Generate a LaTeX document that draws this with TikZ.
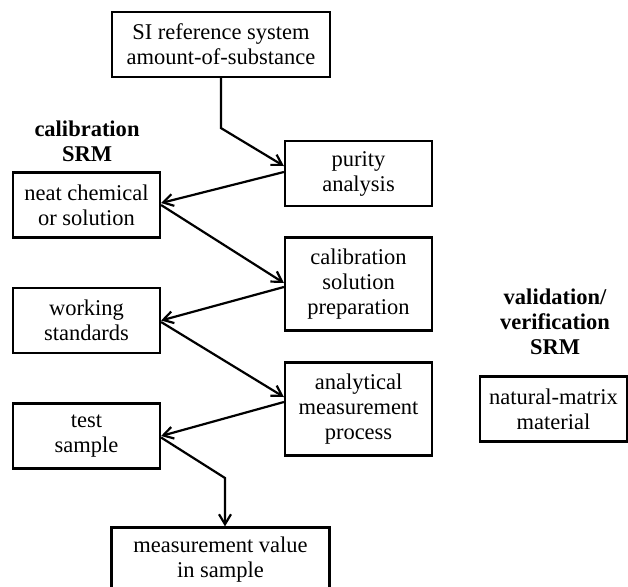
\documentclass[tikz,border=0pt]{standalone}
\usepackage{fontspec}
\setmainfont{Liberation Serif}
\usetikzlibrary{arrows.meta}

\begin{document}
\begin{tikzpicture}[x=1pt,y=-1pt,
  font=\fontsize{22.5}{25}\selectfont,
  box/.style={rectangle,draw,line width=2.2pt,align=center,inner sep=0pt,
    minimum width=147pt,minimum height=65pt},
  tallbox/.style={box,minimum height=93pt},
  widebox/.style={box,minimum width=218pt},
  srm/.style={align=center,font=\fontsize{22.5}{25}\selectfont\bfseries},
  flow/.style={line width=2.2pt,-{Straight Barb[length=10pt,width=12pt,line width=2.2pt]}}]
\useasboundingbox (0,0) rectangle (628,586);
% chain of nodes
\node [widebox] (si) at (221,44.5) {SI reference system\\amount-of-substance};
\node [box] (purity) at (358.5,173.5) {purity\\analysis};
\node [box] (neat) at (86.5,205) {neat chemical\\or solution};
\node [tallbox] (calsol) at (358.5,284) {calibration\\solution\\preparation};
\node [box] (working) at (86.5,320.5) {working\\standards};
\node [tallbox] (analytical) at (358.5,409) {analytical\\measurement\\process};
\node [box] (test) at (86.5,436) {test\\sample};
\node [widebox] (value) at (220.5,560) {measurement value\\in sample};
\node [box] (natural) at (553.5,409) {natural-matrix\\material};
% labels
\node [srm] (calsrm) at (87,141) {calibration\\SRM};
\node [srm] (valsrm) at (555,322) {validation/\\verification\\SRM};
% arrows
\coordinate (bend) at (225,478);
\draw [flow] (si.south) -- ++(0,50) -- ([yshift=7.5pt]purity.west);
\draw [flow] ([yshift=1.5pt]purity.west) -- ([yshift=2pt]neat.east);
\draw [flow] (neat.east) -- ([yshift=1pt]calsol.west);
\draw [flow] ([yshift=-3pt]calsol.west) -- (working.east);
\draw [flow] ([yshift=-1.5pt]working.east) -- ([yshift=12pt]analytical.west);
\draw [flow] ([yshift=7pt]analytical.west) -- (test.east);
\draw [flow] ([yshift=-1.5pt]test.east) -- (bend) -- (bend |- value.north);
\end{tikzpicture}
\end{document}
